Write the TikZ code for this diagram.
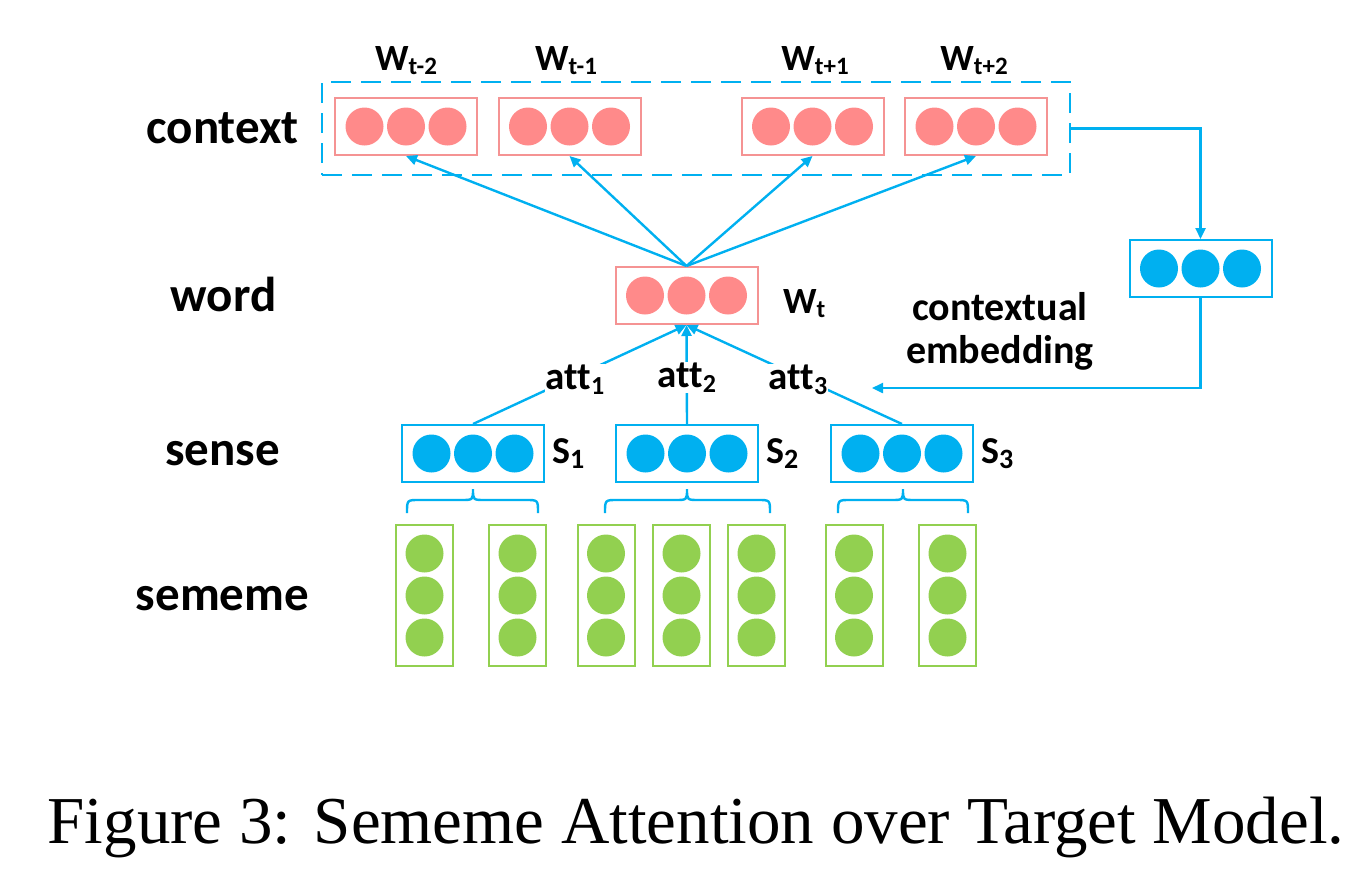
\documentclass[tikz,border=0pt]{standalone}
\usepackage{fontspec}
\setmainfont{Carlito}[Ligatures={NoCommon}]
\newfontfamily\capfont{Liberation Serif}
\usetikzlibrary{arrows.meta,calc}
\definecolor{pinkc}{HTML}{FF8A8A}
\definecolor{pinkb}{HTML}{F59393}
\definecolor{bluec}{HTML}{00B0F0}
\definecolor{greenc}{HTML}{92D050}
\newcommand\fsz[1]{\fontsize{#1}{#1}\selectfont}
\newcommand\mysub[3]{\raisebox{-#1pt}{\fsz{#2}#3}}
\begin{document}
\begin{tikzpicture}[x=1pt,y=-1pt,
  vecbox/.style={draw,line width=2pt,minimum width=142pt,minimum height=57pt,inner sep=0pt},
  pinkbox/.style={vecbox,draw=pinkb},
  bluebox/.style={vecbox,draw=bluec},
  colbox/.style={draw=greenc,line width=2pt,minimum width=57pt,minimum height=141pt,inner sep=0pt},
  arr/.style={draw=bluec,line width=2.4pt,-{Triangle[length=11pt,width=10pt]}},
  plain/.style={draw=bluec,line width=2.4pt},
  rowlab/.style={font=\bfseries\fsz{49},anchor=base,inner sep=0pt},
  veclab/.style={font=\bfseries\fsz{37},anchor=base,inner sep=0pt},
  attlab/.style={font=\bfseries\fsz{39},fill=white,inner sep=1pt},
  slab/.style={font=\bfseries\fsz{38},anchor=base west,inner sep=0pt},
  celab/.style={font=\bfseries\fsz{40},anchor=base,inner sep=0pt}
]
\useasboundingbox (0,0) rectangle (1368,868);

% context vectors
\node[pinkbox] (c1) at (406,126.5) {};
\node[pinkbox] (c2) at (569.5,126.5) {};
\node[pinkbox] (c3) at (812.5,126.5) {};
\node[pinkbox] (c4) at (976,126.5) {};
\node[draw=bluec,line width=2pt,dash pattern=on 20pt off 10pt,minimum width=748pt,minimum height=93pt,inner sep=0pt] (ctx) at (696,128.5) {};
% word vector
\node[pinkbox] (w) at (686.5,295.5) {};
% contextual embedding vector
\node[bluebox] (ce) at (1200.5,268.5) {};
% sense vectors
\node[bluebox] (s1) at (473,453.5) {};
\node[bluebox] (s2) at (687,453.5) {};
\node[bluebox] (s3) at (902,453.5) {};
% sememe vectors
\foreach \n/\x in {1/424.5,2/517.5,3/606,4/681.5,5/756.5,6/854,7/947.5}{
  \node[colbox] (m\n) at (\x,595.5) {};
  \foreach \d in {-42,0,42}
    \fill[greenc] ($(m\n.center)+(0,\d)$) circle[radius=19pt];
}
% circles in horizontal vectors
\foreach \b in {c1,c2,c3,c4,w}
  \foreach \d in {-41.5,0,41.5}
    \fill[pinkc] ($(\b.center)+(\d,0)$) circle[radius=19pt];
\foreach \b in {ce,s1,s2,s3}
  \foreach \d in {-41.5,0,41.5}
    \fill[bluec] ($(\b.center)+(\d,0)$) circle[radius=19pt];

% labels
\node[rowlab] (lctx) at (222.5,143) {context};
\node[rowlab] (lword) at (223.5,311) {word};
\node[rowlab] (lsense) at (222.5,465) {sense};
\node[rowlab] (lsem) at (222.5,610) {sememe};

\node[veclab] (lw1) at (406,70) {W\mysub{4}{25}{t-2}};
\node[veclab] (lw2) at (566,70) {W\mysub{4}{25}{t-1}};
\node[veclab] (lw3) at (815,70) {W\mysub{4}{25}{t+1}};
\node[veclab] (lw4) at (974,70) {W\mysub{4}{25}{t+2}};
\node[veclab,anchor=base west] (lwt) at (783,313) {W\mysub{4}{25}{t}};

\node[slab] (ls1) at (552,463) {S\mysub{5}{28}{1}};
\node[slab] (ls2) at (766,463) {S\mysub{5}{28}{2}};
\node[slab] (ls3) at (981,463) {S\mysub{5}{28}{3}};

\node[celab] (lce1) at (1000,320) {contextual};
\node[celab] (lce2) at (1000,363) {embedding};

% connectors word -> context
\foreach \c in {c1,c2,c3,c4}
  \draw[arr] (w.north) -- (\c.south);

% context -> contextual embedding -> back
\coordinate (ceEnd) at (872,388);
\draw[arr] (ctx.east) -| (ce.north);
\draw[arr] (ce.south) |- (ceEnd);

% attention
\draw[arr] (s1.north) -- node[attlab,pos=0.45,xshift=6pt]{att\mysub{5}{26}{1}} (w.south);
\draw[arr] (s2.north) -- node[attlab,pos=0.47]{att\mysub{5}{26}{2}} (w.south);
\draw[arr] (s3.north) -- node[attlab,pos=0.45,xshift=-7pt]{att\mysub{5}{26}{3}} (w.south);

% braces
\foreach \L/\C/\R in {407/473/538,605/687/770,838/903/968}{
  \draw[plain] (\L,513) .. controls (\L,500) .. (\L+12,500) -- (\C-12,500)
     .. controls (\C,500) .. (\C,489) .. controls (\C,500) .. (\C+12,500)
     -- (\R-12,500) .. controls (\R,500) .. (\R,513);
}

% caption
\node[font=\capfont\fsz{67},anchor=base,inner sep=0pt] (cap) at (696,843) {Figure 3: Sememe Attention over Target Model.};
\end{tikzpicture}
\end{document}
